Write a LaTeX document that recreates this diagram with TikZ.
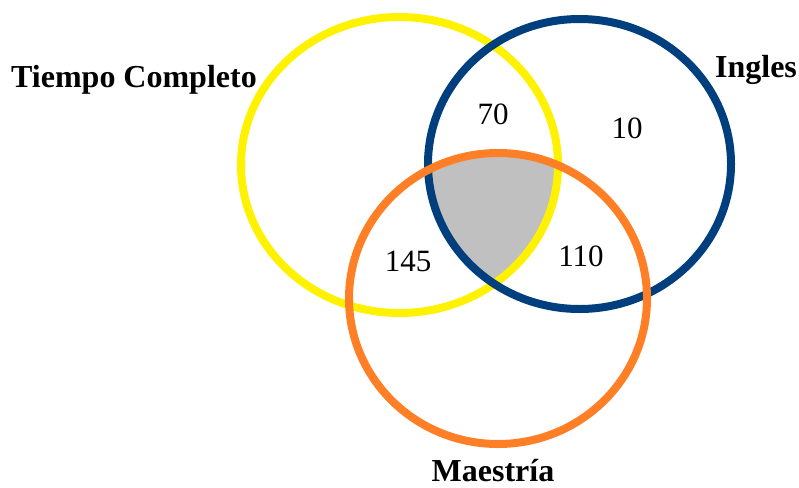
\documentclass[tikz,border=0pt]{standalone}
\usepackage{fontspec}
\setmainfont{Liberation Serif}
\definecolor{setyellow}{RGB}{255,242,0}
\definecolor{setblue}{RGB}{0,63,125}
\definecolor{setorange}{RGB}{255,127,39}
\definecolor{coregray}{RGB}{192,192,192}
\begin{document}
\begin{tikzpicture}[x=1pt,y=-1pt,
  ring/.style={line width=8pt},
  setlabel/.style={font=\bfseries\fontsize{32}{32}\selectfont, anchor=base, inner sep=0pt},
  count/.style={font=\fontsize{31}{31}\selectfont, inner sep=0pt}]
\useasboundingbox (0,0) rectangle (799,487);
% triple overlap of the three sets
\begin{scope}
  \clip (399.5,165) ellipse [x radius=158.5, y radius=148];
  \clip (579.5,164) ellipse [x radius=151.5, y radius=145];
  \fill[coregray] (498,298.5) ellipse [x radius=149, y radius=145.5];
\end{scope}
% the three sets
\draw[ring, setyellow] (399.5,165) ellipse [x radius=158.5, y radius=148];
\draw[ring, setblue] (579.5,164) ellipse [x radius=151.5, y radius=145];
\draw[ring, setorange] (498,298.5) ellipse [x radius=149, y radius=145.5];
% set names
\node[setlabel] (tc) at (134,87) {Tiempo Completo};
\node[setlabel] (ing) at (756,77) {Ingles};
\node[setlabel] (mae) at (493,481) {Maestría};
% region counts
\node[count] (n70) at (493,114) {70};
\node[count] (n10) at (627,128) {10};
\node[count] (n145) at (408,261) {145};
\node[count] (n110) at (581,256) {110};
\end{tikzpicture}
\end{document}
